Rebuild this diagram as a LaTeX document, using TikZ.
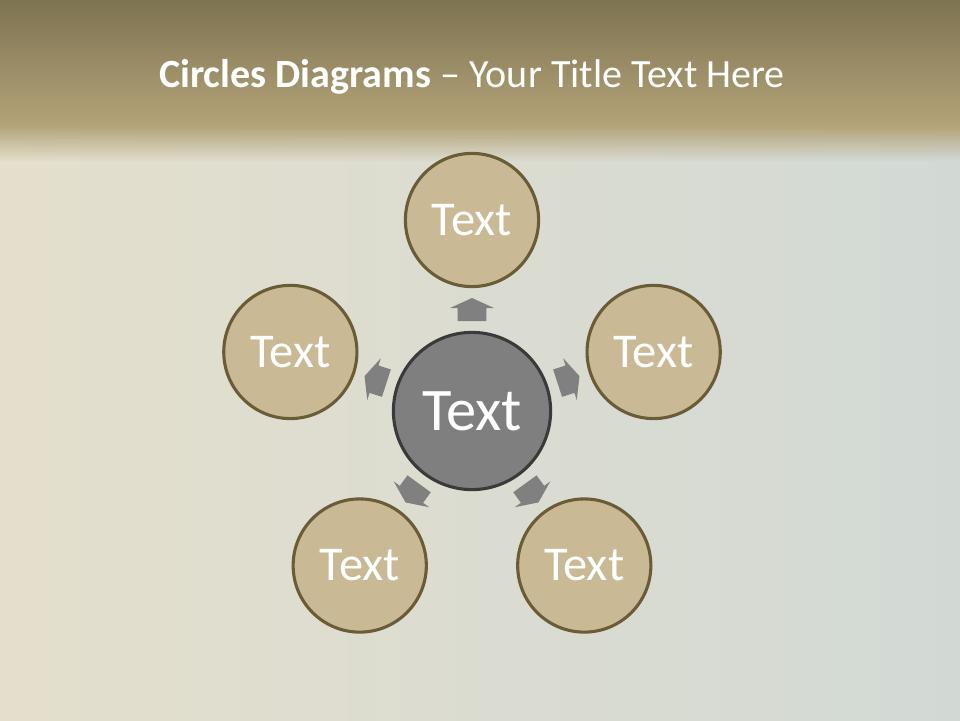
\documentclass[tikz,border=0pt]{standalone}
\usepackage{fontspec}
\setmainfont{Carlito}
\usetikzlibrary{calc}
\definecolor{bandtop}{HTML}{7E7352}
\definecolor{bandbot}{HTML}{B3A378}
\definecolor{paleleft}{HTML}{E4DFCC}
\definecolor{paleright}{HTML}{D2D9D5}
\definecolor{tanfill}{HTML}{C9B995}
\definecolor{tanline}{HTML}{6B5C38}
\definecolor{hubfill}{HTML}{7F7F7F}
\definecolor{hubline}{HTML}{3A3A3A}
\definecolor{arrowgray}{HTML}{808080}

\begin{document}
\begin{tikzpicture}[line cap=round,line join=round,x=1.0cm,y=1.0cm,
  petal/.style={circle,draw=tanline,line width=2.2pt,fill=tanfill,
    minimum size=3.33cm,inner sep=0pt,text=white,
    font=\fontsize{34.5}{34.5}\selectfont},
  hub/.style={circle,draw=hubline,line width=2.2pt,fill=hubfill,
    minimum size=3.93cm,inner sep=0pt,text=white,
    font=\fontsize{43}{43}\selectfont},
  blockarr/.style={fill=arrowgray,draw=none}]
  \useasboundingbox (0,0) rectangle (24,18);
  % background
  \shade[left color=paleleft,right color=paleright] (0,0) rectangle (24,14.9);
  \foreach \i in {0,...,19}
    \fill[bandbot,opacity={1-\i/20}] (0,{14.875-\i*0.045}) rectangle (24,{14.875-(\i+1)*0.045});
  \shade[top color=bandtop,bottom color=bandbot] (0,14.87) rectangle (24,18);
  \node[anchor=base,text=white,font=\fontsize{28.5}{30}\selectfont] (title)
    at (11.8,15.8) {\textbf{Circles Diagrams} – Your Title Text Here};
  % circles
  \node[hub] (hub) at (11.8,7.725) {Text};
  \foreach \a/\n in {90/top,162/left,18/right,234/lowleft,306/lowright}
    \node[petal] (\n) at ($(hub)+(\a:4.775)$) {Text};
  % arrows
  \foreach \a in {90,162,18,234,306}
    \fill[blockarr,shift={(hub.center)},rotate=\a] (2.25,-0.36) -- (2.575,-0.36)
      -- (2.575,-0.55) -- (2.825,0) -- (2.575,0.55) -- (2.575,0.36)
      -- (2.25,0.36) -- cycle;
\end{tikzpicture}
\end{document}
